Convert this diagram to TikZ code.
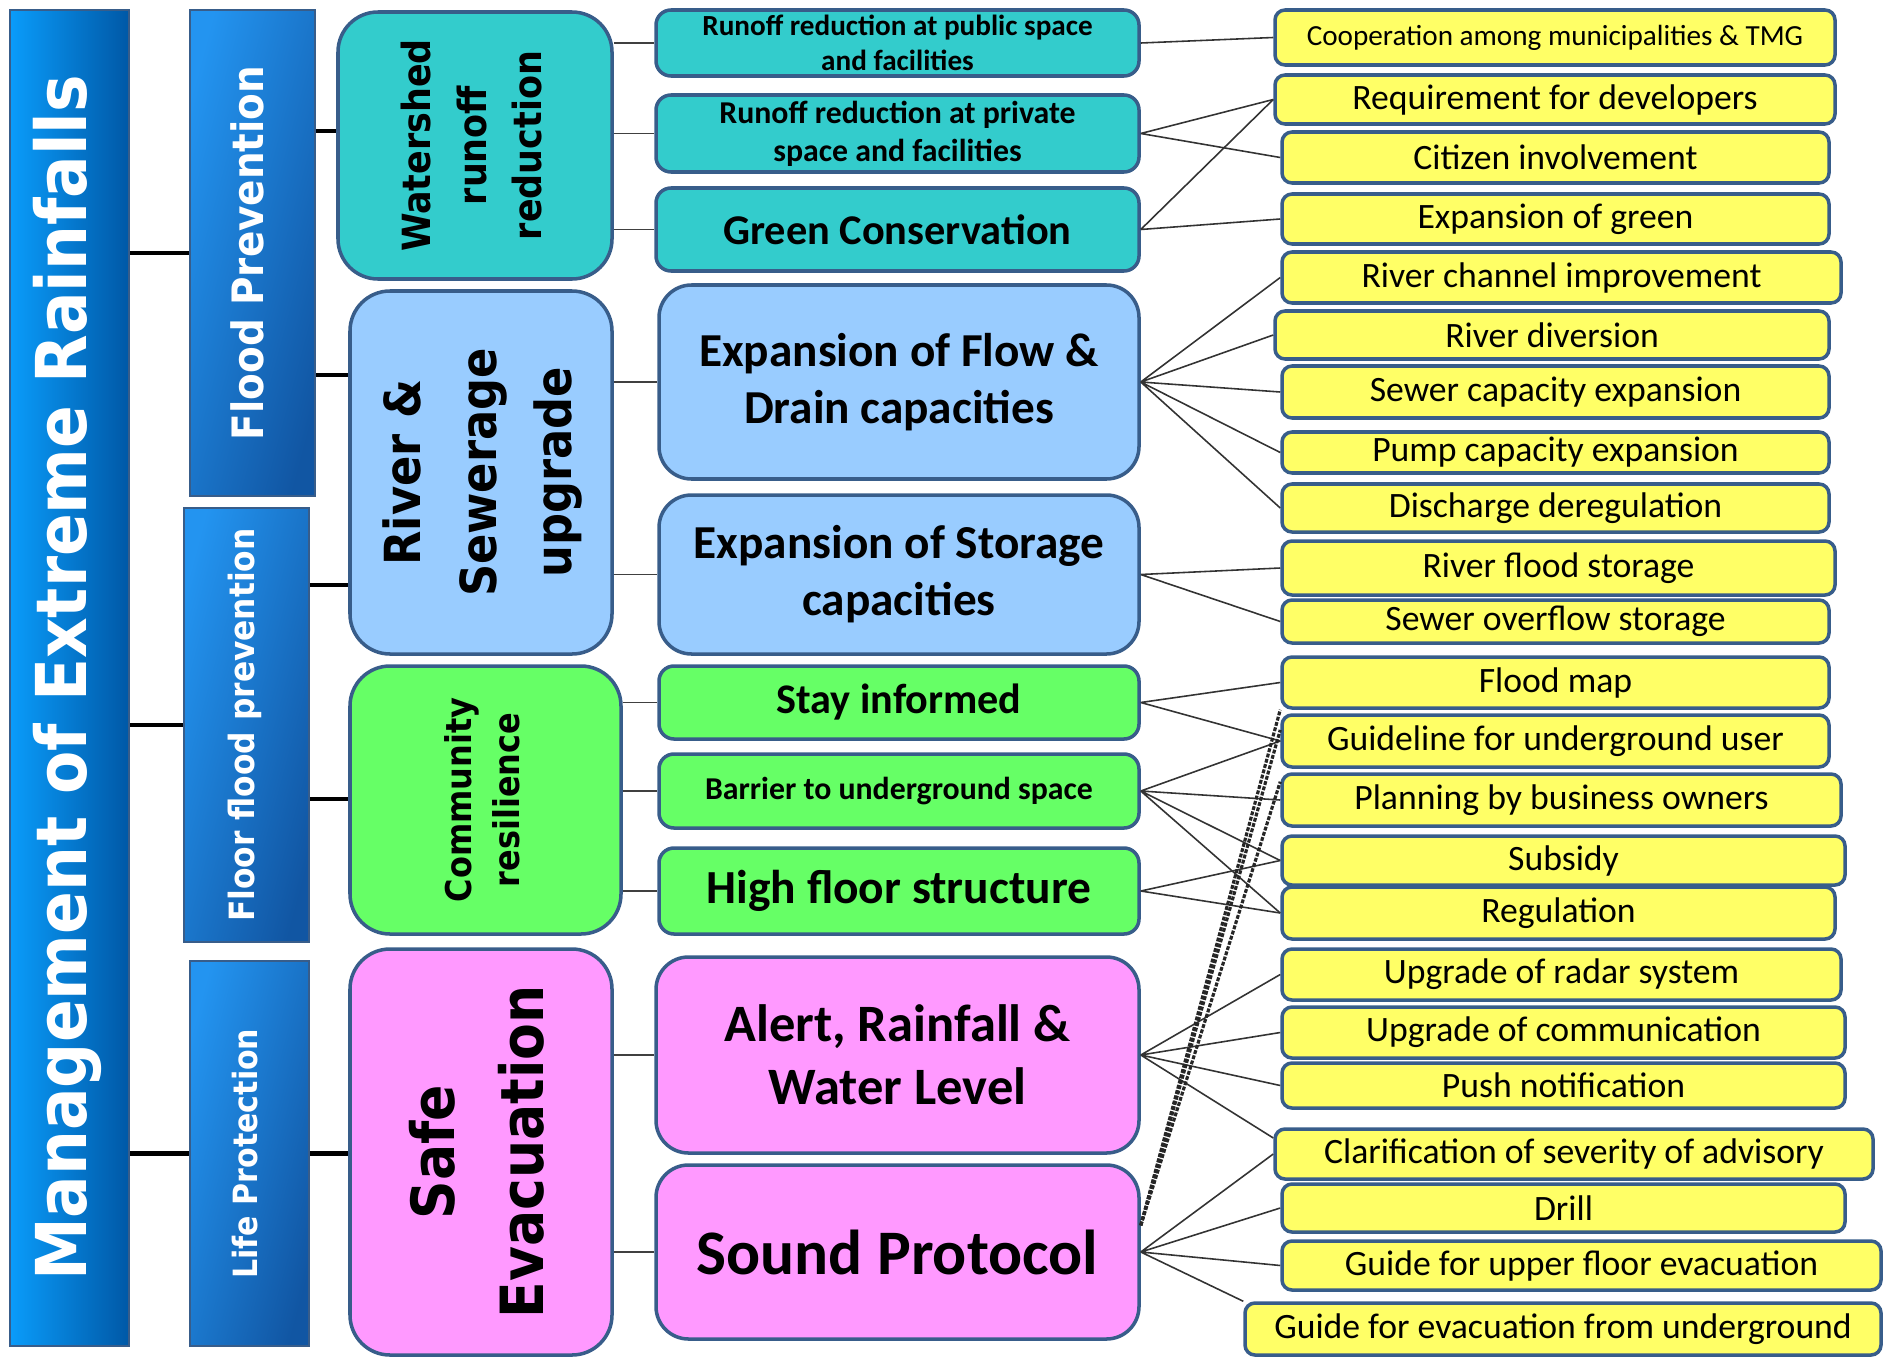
\documentclass[tikz,border=0pt]{standalone}
\usepackage{fontspec}
\usepackage{graphicx}
\setmainfont{Carlito}
\newfontfamily\headfont{DejaVu Sans Condensed}
\usetikzlibrary{calc}

\definecolor{frame}{HTML}{385D8A}
\definecolor{rootL}{HTML}{0A9CFA}
\definecolor{rootR}{HTML}{0058A6}
\definecolor{pillarL}{HTML}{2394F0}
\definecolor{pillarR}{HTML}{1156A3}
\definecolor{tealfill}{HTML}{33CCCC}
\definecolor{skyfill}{HTML}{99CCFF}
\definecolor{limefill}{HTML}{66FF66}
\definecolor{pinkfill}{HTML}{FF99FF}
\definecolor{lemonfill}{HTML}{FFFF66}

\newcommand\vlabel[1]{\rotatebox{90}{\begin{tabular}{@{}c@{}}#1\end{tabular}}}
\newcommand\fs[2]{\fontsize{#1}{#2}\selectfont}

\tikzset{
    rootbox/.style = {draw=frame, line width=1.6pt, left color=rootL,
                      right color=rootR, text=white, inner sep=0pt},
    pillar/.style  = {draw=frame, line width=1.6pt, left color=pillarL,
                      right color=pillarR, shading angle=75, text=white,
                      inner sep=0pt},
    group/.style   = {draw=frame, line width=2pt, rounded corners=0.8cm,
                      inner sep=0pt},
    measure/.style = {draw=frame, line width=2pt, rounded corners=0.3cm,
                      inner sep=0pt, align=center},
    bigmeasure/.style = {measure, rounded corners=0.65cm},
    action/.style  = {draw=frame, line width=2pt, rounded corners=0.2cm,
                      fill=lemonfill, inner sep=0pt, font=\fs{20.3}{24}},
    trunk/.style   = {line width=2.3pt},
    stem/.style    = {line width=0.9pt, black!75},
    twig/.style    = {line width=0.9pt, black!80},
    hatch/.style   = {line width=1.8pt, black!85,
                      dash pattern=on 2.2pt off 0.9pt}
}

\begin{document}
\begin{tikzpicture}

\useasboundingbox (0,0) rectangle (37.76,-27.22);

% ================= Root and pillars =================
\node[rootbox, minimum width=2.38cm, minimum height=26.72cm,
      font=\headfont\bfseries\fs{39.9}{48}]
    (root) at (1.39,-13.56) {\vlabel{Management of Extreme Rainfalls}};
\node[pillar, minimum width=2.50cm, minimum height=9.72cm,
      font=\headfont\bfseries\fs{24.6}{30}]
    (fp) at (5.05,-5.06) {\vlabel{Flood Prevention}};
\node[pillar, minimum width=2.50cm, minimum height=8.68cm,
      font=\headfont\bfseries\fs{19.8}{24}]
    (ffp) at (4.93,-14.50) {\vlabel{Floor flood prevention}};
\node[pillar, minimum width=2.38cm, minimum height=7.70cm,
      font=\headfont\bfseries\fs{19}{23}]
    (lp) at (4.99,-23.07) {\vlabel{Life Protection}};

% ================= Groups =================
\node[group, fill=tealfill, minimum width=5.48cm, minimum height=5.34cm,
      font=\headfont\bfseries\fs{22.1}{31.5}]
    (ws) at (9.50,-2.91) {\vlabel{Watershed\\runoff\\reduction}};
\node[group, fill=skyfill, minimum width=5.24cm, minimum height=7.26cm,
      font=\headfont\bfseries\fs{28.3}{43}]
    (rs) at (9.62,-9.45) {\vlabel{River \&\\Sewerage\\upgrade}};
\node[group, fill=limefill, minimum width=5.42cm, minimum height=5.36cm,
      font=\headfont\bfseries\fs{20.2}{27.5}]
    (cr) at (9.71,-16.00) {\vlabel{Community\\resilience}};
\node[group, fill=pinkfill, minimum width=5.24cm, minimum height=8.12cm,
      font=\headfont\bfseries\fs{33.9}{51}]
    (se) at (9.62,-23.04) {\vlabel{Safe\\Evacuation}};

% ================= Measures =================
\node[measure, fill=tealfill, minimum width=9.66cm, minimum height=1.32cm,
      font=\bfseries\fs{16.6}{20}]
    (pub) at (17.95,-0.86) {Runoff reduction at public space\\and facilities};
\node[measure, fill=tealfill, minimum width=9.66cm, minimum height=1.54cm,
      font=\bfseries\fs{18.1}{21.7}]
    (pri) at (17.95,-2.67) {Runoff reduction at private\\space and facilities};
\node[measure, fill=tealfill, minimum width=9.66cm, minimum height=1.66cm,
      font=\bfseries\fs{24.1}{29}]
    (gc) at (17.95,-4.59) {Green Conservation};
\node[bigmeasure, fill=skyfill, minimum width=9.60cm, minimum height=3.88cm,
      font=\bfseries\fs{26.9}{32.3}]
    (fd) at (17.98,-7.64) {Expansion of Flow \&\\Drain capacities};
\node[bigmeasure, fill=skyfill, minimum width=9.60cm, minimum height=3.18cm,
      font=\bfseries\fs{26.9}{32.3}]
    (sc) at (17.98,-11.49) {Expansion of Storage\\capacities};
\node[measure, fill=limefill, minimum width=9.60cm, minimum height=1.46cm,
      font=\bfseries\fs{24}{29}]
    (si) at (17.98,-14.05) {Stay informed};
\node[measure, fill=limefill, minimum width=9.60cm, minimum height=1.48cm,
      font=\bfseries\fs{18.1}{22}]
    (bu) at (17.98,-15.82) {Barrier to underground space};
\node[measure, fill=limefill, minimum width=9.60cm, minimum height=1.72cm,
      font=\bfseries\fs{27}{32}]
    (hf) at (17.98,-17.82) {High floor structure};
\node[bigmeasure, fill=pinkfill, minimum width=9.66cm, minimum height=3.92cm,
      font=\bfseries\fs{29.9}{36}]
    (ar) at (17.95,-21.10) {Alert, Rainfall \&\\Water Level};
\node[bigmeasure, fill=pinkfill, minimum width=9.66cm, minimum height=3.48cm,
      font=\bfseries\fs{36.1}{43}]
    (sp) at (17.95,-25.04) {Sound Protocol};

% ================= Actions =================
\node[action, minimum width=11.20cm, minimum height=1.10cm, font=\fs{16.6}{20}]
    (coop) at (31.10,-0.75) {Cooperation among municipalities \& TMG};
\node[action, minimum width=11.20cm, minimum height=0.98cm]
    (req) at (31.10,-1.99) {Requirement for developers};
\node[action, minimum width=10.94cm, minimum height=1.02cm]
    (cit) at (31.11,-3.15) {Citizen involvement};
\node[action, minimum width=10.94cm, minimum height=1.00cm]
    (eg) at (31.11,-4.38) {Expansion of green};
\node[action, minimum width=11.18cm, minimum height=1.02cm]
    (rci) at (31.23,-5.55) {River channel improvement};
\node[action, minimum width=11.08cm, minimum height=0.96cm]
    (rd) at (31.04,-6.70) {River diversion};
\node[action, minimum width=10.94cm, minimum height=1.04cm]
    (sce) at (31.11,-7.84) {Sewer capacity expansion};
\node[action, minimum width=10.94cm, minimum height=0.82cm]
    (pce) at (31.11,-9.05) {Pump capacity expansion};
\node[action, minimum width=10.94cm, minimum height=0.96cm]
    (dd) at (31.11,-10.16) {Discharge deregulation};
\node[action, minimum width=11.06cm, minimum height=1.08cm]
    (rfs) at (31.17,-11.36) {River flood storage};
\node[action, minimum width=10.94cm, minimum height=0.86cm]
    (sos) at (31.11,-12.43) {Sewer overflow storage};
\node[action, minimum width=10.94cm, minimum height=1.02cm]
    (fm) at (31.11,-13.65) {Flood map};
\node[action, minimum width=10.94cm, minimum height=1.04cm]
    (gul) at (31.11,-14.82) {Guideline for underground user};
\node[action, minimum width=11.18cm, minimum height=1.04cm]
    (pbo) at (31.23,-16.00) {Planning by business owners};
\node[action, minimum width=11.26cm, minimum height=0.98cm]
    (sub) at (31.27,-17.21) {Subsidy};
\node[action, minimum width=11.06cm, minimum height=1.04cm]
    (reg) at (31.17,-18.26) {Regulation};
\node[action, minimum width=11.18cm, minimum height=1.02cm]
    (urs) at (31.23,-19.49) {Upgrade of radar system};
\node[action, minimum width=11.26cm, minimum height=1.02cm]
    (uoc) at (31.27,-20.65) {Upgrade of communication};
\node[action, minimum width=11.26cm, minimum height=0.90cm]
    (pn) at (31.27,-21.71) {Push notification};
\node[action, minimum width=11.96cm, minimum height=1.00cm]
    (csa) at (31.48,-23.08) {Clarification of severity of advisory};
\node[action, minimum width=11.26cm, minimum height=0.96cm]
    (dr) at (31.27,-24.16) {Drill};
\node[action, minimum width=11.98cm, minimum height=0.98cm]
    (gufe) at (31.63,-25.31) {Guide for upper floor evacuation};
\node[action, minimum width=12.72cm, minimum height=1.04cm]
    (geu) at (31.26,-26.58) {Guide for evacuation from underground};

% ================= Root to pillars to groups =================
\draw[trunk] (fp.west -| root.east) -- (fp.west);
\draw[trunk] (ffp.west -| root.east) -- (ffp.west);
\draw[trunk] (lp.west -| root.east) -- (lp.west);

\coordinate (fp-a)  at ($(fp.north east)!0.25!(fp.south east)$);
\coordinate (fp-b)  at ($(fp.north east)!0.75!(fp.south east)$);
\coordinate (ffp-a) at ($(ffp.north east)!0.18!(ffp.south east)$);
\coordinate (ffp-b) at ($(ffp.north east)!0.67!(ffp.south east)$);
\draw[trunk] (fp-a) -- (fp-a -| ws.west);
\draw[trunk] (fp-b) -- (fp-b -| rs.west);
\draw[trunk] (ffp-a) -- (ffp-a -| rs.west);
\draw[trunk] (ffp-b) -- (ffp-b -| cr.west);
\draw[trunk] (lp.east) -- (lp.east -| se.west);

% ================= Groups to measures =================
\draw[stem] (pub.west -| ws.east) -- (pub.west);
\draw[stem] (pri.west -| ws.east) -- (pri.west);
\draw[stem] (gc.west -| ws.east) -- (gc.west);
\draw[stem] (fd.west -| rs.east) -- (fd.west);
\draw[stem] (sc.west -| rs.east) -- (sc.west);
\draw[stem] (si.west -| cr.east) -- (si.west);
\draw[stem] (bu.west -| cr.east) -- (bu.west);
\draw[stem] (hf.west -| cr.east) -- (hf.west);
\draw[stem] (ar.west -| se.east) -- (ar.west);
\draw[stem] (sp.west -| se.east) -- (sp.west);

% ================= Measures to actions =================
\draw[twig] (pub.east) -- (coop.west);
\draw[twig] (pri.east) -- (req.west)  (pri.east) -- (cit.west);
\draw[twig] (gc.east) -- (req.west)   (gc.east) -- (eg.west);
\draw[twig] (fd.east) -- (rci.west)   (fd.east) -- (rd.west)
            (fd.east) -- (sce.west)   (fd.east) -- (pce.west)
            (fd.east) -- (dd.west);
\draw[twig] (sc.east) -- (rfs.west)   (sc.east) -- (sos.west);
\draw[twig] (si.east) -- (fm.west)    (si.east) -- (gul.west);
\draw[twig] (bu.east) -- (gul.west)   (bu.east) -- (pbo.west)
            (bu.east) -- (sub.west)   (bu.east) -- (reg.west);
\draw[twig] (hf.east) -- (sub.west)   (hf.east) -- (reg.west);

\coordinate (csa-in) at ($(csa.north west)!0.2!(csa.south west)$);
\draw[twig] (ar.east) -- (urs.west)   (ar.east) -- (uoc.west)
            (ar.east) -- (pn.west)    (ar.east) -- (csa-in);
\draw[twig] (sp.east) -- (csa.west)   (sp.east) -- (dr.west)
            (sp.east) -- (gufe.west)  (sp.east) -- (geu.north west);

% long hatched links from the protocol
\coordinate (sp-up)  at ($(sp.north east)!0.35!(sp.south east)$);
\coordinate (gul-in) at ($(gul.north west)!0.3!(gul.south west)$);
\coordinate (pbo-in) at ($(pbo.north west)!0.17!(pbo.south west)$);
\draw[hatch] (sp-up) -- (fm.south west);
\draw[hatch] (sp-up) -- (gul-in);
\draw[hatch] (sp-up) -- (pbo-in);

\end{tikzpicture}
\end{document}
